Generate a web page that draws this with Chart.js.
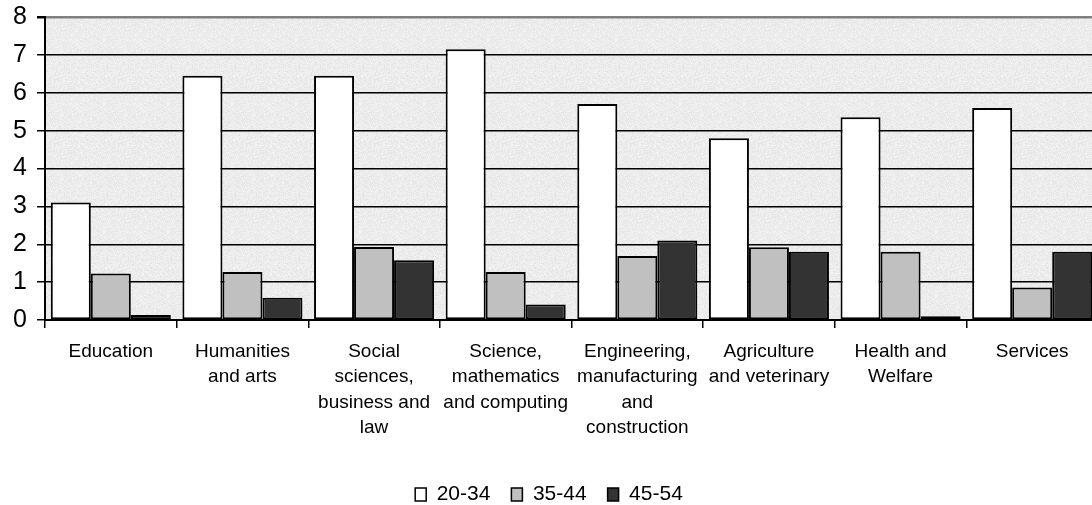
<!DOCTYPE html>
<html>
<head>
<meta charset="utf-8">
<script src="https://cdn.jsdelivr.net/npm/chart.js@4/dist/chart.umd.min.js"></script>
<style>
  html, body { margin: 0; padding: 0; background: #fff; overflow: hidden; width: 1092px; height: 505px; }
  #wrap { position: absolute; left: 0; top: 0; width: 1120px; height: 515px; }
</style>
</head>
<body>
<div id="wrap"><canvas id="c" width="1120" height="515"></canvas></div>
<script>
const categories = [
  "Education",
  ["Humanities", "and arts"],
  ["Social", "sciences,", "business and", "law"],
  ["Science,", "mathematics", "and computing"],
  ["Engineering,", "manufacturing", "and", "construction"],
  ["Agriculture", "and veterinary"],
  ["Health and", "Welfare"],
  "Services"
];
const seriesNames = ["20-34", "35-44", "45-54"];
const age20to34 = [3.1, 6.45, 6.45, 7.15, 5.7, 4.8, 5.35, 5.6];
const age35to44 = [1.23, 1.27, 1.93, 1.27, 1.69, 1.92, 1.8, 0.86];
const age45to54 = [0.13, 0.59, 1.58, 0.41, 2.1, 1.8, 0.1, 1.8];
const yTicks = [0, 1, 2, 3, 4, 5, 6, 7, 8];

const FONT = "'Liberation Sans', Arial, sans-serif";

// deterministic speckled texture for plot background
function makeTexture() {
  const t = document.createElement('canvas');
  t.width = 64; t.height = 64;
  const g = t.getContext('2d');
  const img = g.createImageData(64, 64);
  for (let y = 0; y < 64; y++) {
    for (let x = 0; x < 64; x++) {
      const h = Math.sin(x * 12.9898 + y * 78.233) * 43758.5453;
      const f = h - Math.floor(h);
      const v = 229 + Math.round(f * 14);
      const i = (y * 64 + x) * 4;
      img.data[i] = v; img.data[i + 1] = v; img.data[i + 2] = v; img.data[i + 3] = 255;
    }
  }
  g.putImageData(img, 0, 0);
  return t;
}

const bgPlugin = {
  id: 'plotBg',
  beforeDraw(chart) {
    const { ctx, chartArea: a } = chart;
    ctx.save();
    ctx.fillStyle = ctx.createPattern(makeTexture(), 'repeat');
    ctx.fillRect(a.left, a.top, a.right - a.left, a.bottom - a.top);
    ctx.restore();
  }
};

const colors = ['#ffffff', '#c0c0c0', '#333333'];
const values = [age20to34, age35to44, age45to54];

new Chart(document.getElementById('c'), {
  type: 'bar',
  data: {
    labels: categories,
    datasets: seriesNames.map((n, i) => ({
      label: n,
      data: values[i],
      backgroundColor: colors[i],
      borderColor: '#000',
      borderWidth: 2,
      borderSkipped: false,
      categoryPercentage: 0.912,
      barPercentage: 1.0
    }))
  },
  options: {
    responsive: false,
    animation: false,
    devicePixelRatio: 1,
    layout: { padding: { top: 17, right: 22, left: 0, bottom: 0 } },
    plugins: {
      tooltip: { enabled: false },
      legend: {
        position: 'bottom',
        labels: {
          boxWidth: 11,
          boxHeight: 13,
          padding: 21,
          color: '#000',
          font: { family: FONT, size: 21 },
          generateLabels(chart) {
            return chart.data.datasets.map((d, i) => ({
              text: d.label,
              fillStyle: d.backgroundColor,
              strokeStyle: '#000',
              lineWidth: 1.5,
              datasetIndex: i,
              hidden: false,
              fontColor: '#000'
            }));
          }
        }
      }
    },
    scales: {
      x: {
        offset: true,
        grid: {
          display: true,
          offset: true,
          drawOnChartArea: false,
          drawTicks: true,
          tickLength: 8,
          color: '#000',
          lineWidth: 1.5
        },
        border: { display: true, color: '#000', width: 2 },
        ticks: {
          color: '#000',
          maxRotation: 0,
          autoSkip: false,
          padding: 11,
          font: { family: FONT, size: 19, lineHeight: 1.34 }
        },
        afterFit(scale) { scale.height = 143; }
      },
      y: {
        min: 0,
        max: 8,
        afterBuildTicks(scale) { scale.ticks = yTicks.map(v => ({ value: v })); },
        grid: {
          color: ctx => (ctx.tick && ctx.tick.value === 8) ? '#808080' : '#000',
          lineWidth: ctx => (ctx.tick && ctx.tick.value === 8) ? 2.5 : 1.5,
          tickLength: 8,
          tickColor: '#000'
        },
        border: { display: true, color: '#000', width: 2 },
        ticks: {
          color: '#000',
          padding: 10,
          font: { family: FONT, size: 25 }
        },
        afterFit(scale) { scale.width = 45; scale.paddingTop = 0; scale.paddingBottom = 0; }
      }
    }
  },
  plugins: [bgPlugin]
});
</script>
</body>
</html>
